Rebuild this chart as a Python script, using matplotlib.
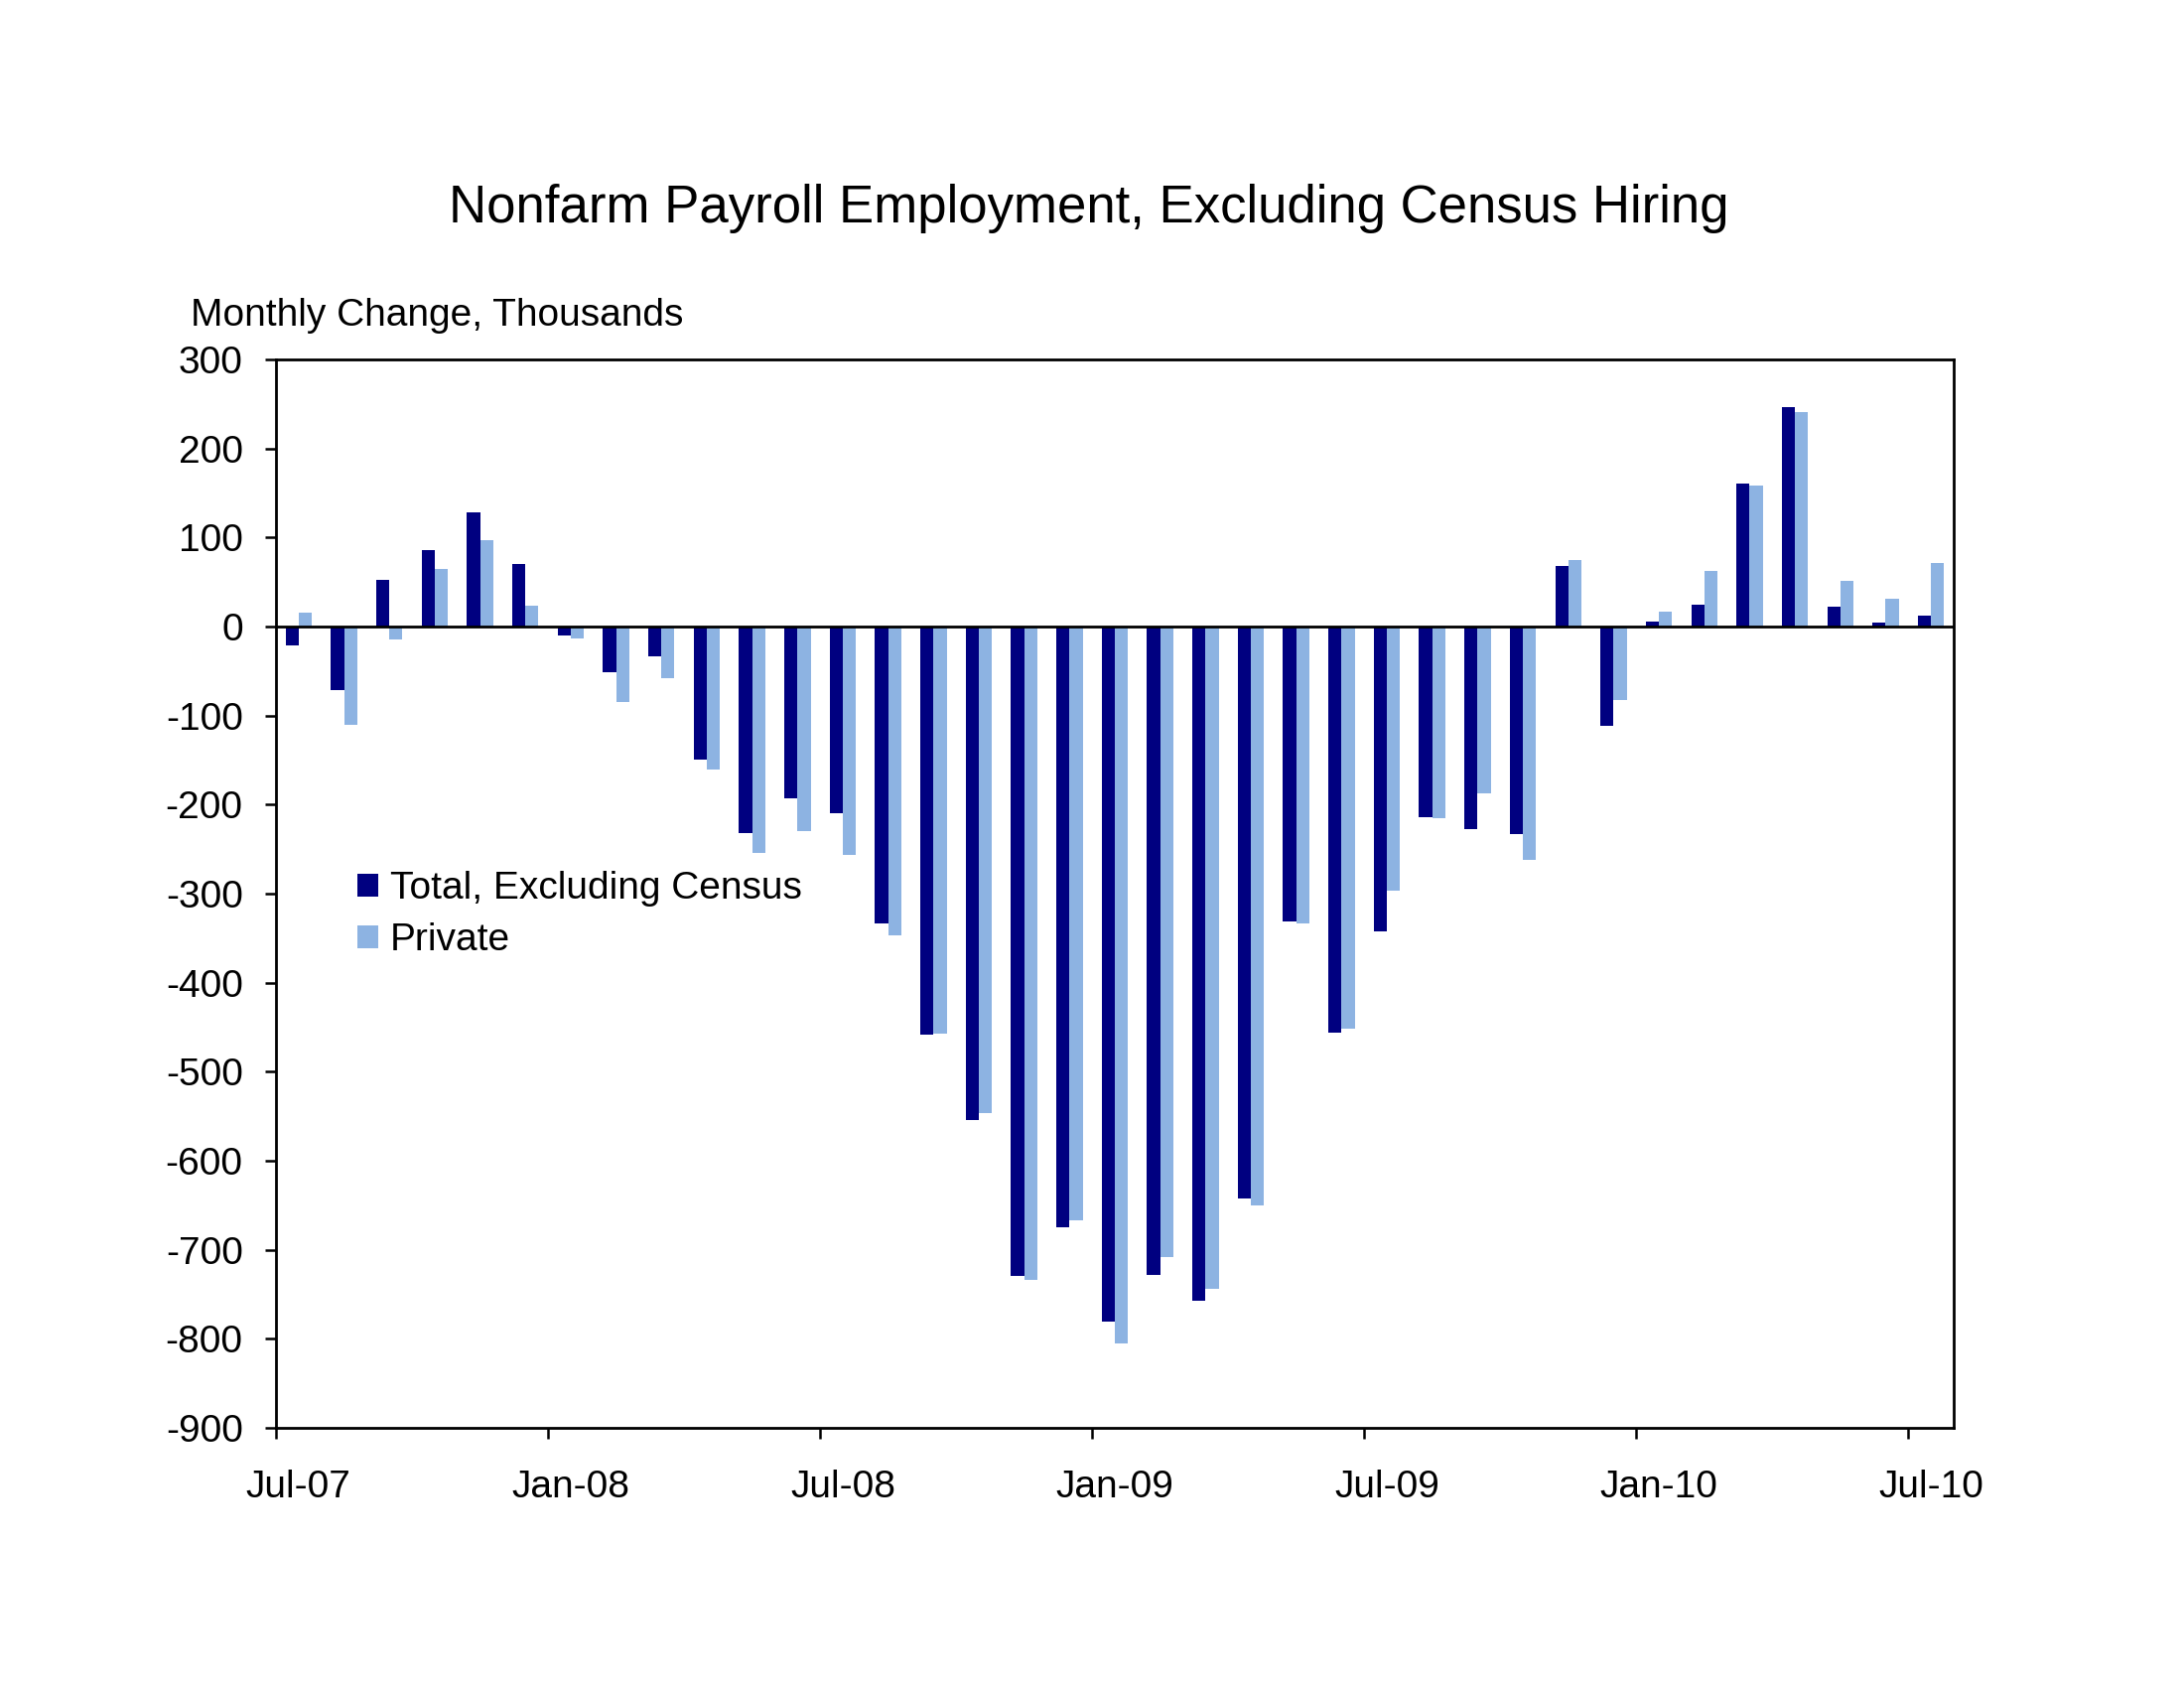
import matplotlib
matplotlib.use("Agg")
import matplotlib.pyplot as plt
import numpy as np

months = ['Jul-07','Aug-07','Sep-07','Oct-07','Nov-07','Dec-07',
          'Jan-08','Feb-08','Mar-08','Apr-08','May-08','Jun-08',
          'Jul-08','Aug-08','Sep-08','Oct-08','Nov-08','Dec-08',
          'Jan-09','Feb-09','Mar-09','Apr-09','May-09','Jun-09',
          'Jul-09','Aug-09','Sep-09','Oct-09','Nov-09','Dec-09',
          'Jan-10','Feb-10','Mar-10','Apr-10','May-10','Jun-10','Jul-10']
total_ex_census = [-21, -71, 52, 86, 128, 70, -10, -51, -33, -149, -232, -193,
                   -210, -334, -458, -554, -729, -675, -781, -728, -757, -642,
                   -331, -456, -342, -214, -228, -233, 68, -111, 6, 25, 161,
                   246, 22, 5, 12]
private = [16, -110, -14, 65, 97, 23, -13, -85, -58, -161, -254, -230,
           -257, -347, -457, -547, -734, -667, -805, -708, -744, -650,
           -334, -452, -297, -215, -187, -262, 75, -83, 17, 62, 158,
           241, 51, 31, 71]
tick_labels = ['Jul-07','Jan-08','Jul-08','Jan-09','Jul-09','Jan-10','Jul-10']
y_ticks = [300, 200, 100, 0, -100, -200, -300, -400, -500, -600, -700, -800, -900]

plt.rcParams['font.family'] = ['Liberation Sans', 'DejaVu Sans']

fig = plt.figure(figsize=(22, 17), dpi=100)
ax = fig.add_axes([278/2200, 1-1438/1700, (1968-278)/2200, (1438-362)/1700])

x = np.arange(len(months))
w = 0.29
navy = '#000080'
light = '#8DB3E2'
ax.bar(x - w/2, total_ex_census, width=w, color=navy, label='Total, Excluding Census', zorder=2)
ax.bar(x + w/2, private, width=w, color=light, label='Private', zorder=2)

ax.set_xlim(-0.5, len(months) - 0.5)
ax.set_ylim(-900, 300)
ax.axhline(0, color='black', linewidth=2.0, zorder=3)

ax.set_yticks(y_ticks)
ax.set_yticklabels([str(v) for v in y_ticks], fontsize=28)
ax.tick_params(axis='y', direction='out', length=8, width=1.8, pad=16)

pos = [months.index(t) for t in tick_labels]
ax.set_xticks(pos)
ax.set_xticklabels(tick_labels, fontsize=28)
ax.set_xticks([p - 0.5 for p in pos], minor=True)
ax.tick_params(axis='x', which='major', length=0, pad=30)
ax.tick_params(axis='x', which='minor', direction='out', length=8, width=1.8)

for s in ax.spines.values():
    s.set_linewidth(2.0)
    s.set_color('black')

fig.text(1097/2200, 1-210/1700, 'Nonfarm Payroll Employment, Excluding Census Hiring',
         ha='center', va='center', fontsize=38)
fig.text(192/2200, 1-318/1700, 'Monthly Change, Thousands', ha='left', va='center', fontsize=28)

ax.legend(loc='upper left', bbox_to_anchor=(360/2200, 1-877/1700), bbox_transform=fig.transFigure,
          frameon=False, fontsize=28, handlelength=0.55, handleheight=0.55, handletextpad=0.3,
          labelspacing=0.42, borderaxespad=0, borderpad=0)

fig.savefig('out.png', dpi=100, facecolor='white')
